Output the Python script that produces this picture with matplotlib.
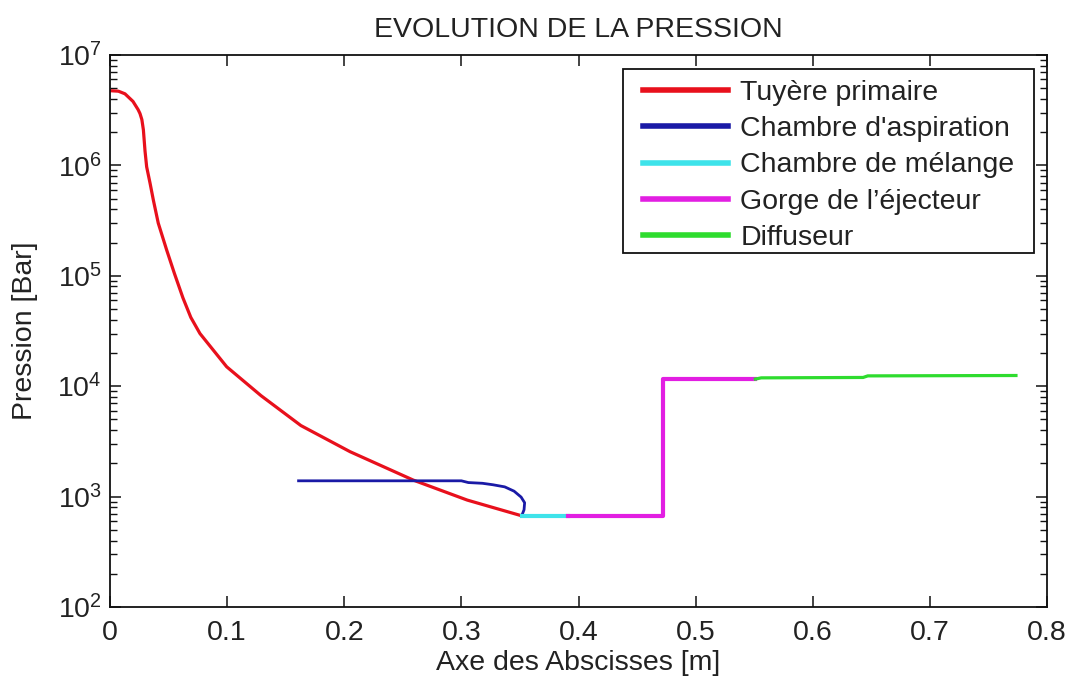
import matplotlib
matplotlib.use("Agg")
import matplotlib.pyplot as plt
from matplotlib import font_manager
from matplotlib.patches import Rectangle
import numpy as np

# ---- data ----
x_tuyere = [0.000, 0.0072, 0.0128, 0.0196, 0.0240, 0.0256, 0.0272, 0.0285, 0.0299, 0.0313,
            0.0342, 0.037, 0.0412, 0.0484, 0.055, 0.0623, 0.069, 0.0768, 0.0996, 0.129,
            0.163, 0.205, 0.259, 0.305, 0.3515]
p_tuyere = [4.75e6, 4.7e6, 4.45e6, 3.8e6, 3.2e6, 2.95e6, 2.6e6, 2.1e6, 1.35e6, 9.7e5,
            6.9e5, 4.86e5, 3.0e5, 1.71e5, 1.05e5, 6.3e4, 4.2e4, 3.0e4, 1.5e4, 8.2e3,
            4.4e3, 2.55e3, 1.41e3, 9.3e2, 6.7e2]

x_aspiration = [0.161, 0.300, 0.306, 0.318, 0.327, 0.337, 0.345, 0.351, 0.354, 0.3535, 0.3515]
p_aspiration = [1390, 1390, 1340, 1320, 1280, 1225, 1120, 990, 880, 760, 670]

x_melange = [0.3515, 0.391]
p_melange = [670, 670]

x_gorge = [0.391, 0.4724, 0.4724, 0.551]
p_gorge = [670, 670, 1.16e4, 1.16e4]

x_diffuseur = [0.551, 0.556, 0.643, 0.647, 0.7735]
p_diffuseur = [1.16e4, 1.19e4, 1.2e4, 1.24e4, 1.25e4]

labels = ["Tuyère primaire", "Chambre d'aspiration", "Chambre de mélange",
          "Gorge de l’éjecteur", "Diffuseur"]
colors = ["#e8101c", "#1a1aa6", "#3ee3ea", "#e21ee2", "#2edc2e"]
widths = [2.3, 2.0, 3.0, 3.0, 2.3]

xticks = [0, 0.1, 0.2, 0.3, 0.4, 0.5, 0.6, 0.7, 0.8]
xticklabels = ["0", "0.1", "0.2", "0.3", "0.4", "0.5", "0.6", "0.7", "0.8"]

# ---- fonts ----
avail = {f.name for f in font_manager.fontManager.ttflist}
fam = "Liberation Sans" if "Liberation Sans" in avail else "DejaVu Sans"
plt.rcParams['font.family'] = [fam, 'DejaVu Sans']
plt.rcParams['mathtext.fontset'] = 'custom'
plt.rcParams['mathtext.rm'] = fam
plt.rcParams['mathtext.it'] = fam
plt.rcParams['mathtext.bf'] = fam

FS = 20.5
txtcol = "#222222"
W, H = 1072, 677

fig = plt.figure(figsize=(W / 100, H / 100), dpi=100)
ax = fig.add_axes([110 / W, 1 - 607 / H, 937 / W, 552 / H])

series = [(x_tuyere, p_tuyere), (x_aspiration, p_aspiration), (x_melange, p_melange),
          (x_gorge, p_gorge), (x_diffuseur, p_diffuseur)]
for (xs, ps), lab, c, w in zip(series, labels, colors, widths):
    ax.plot(xs, ps, color=c, lw=w, label=lab, solid_joinstyle='round')

ax.set_yscale('log')
ax.set_xlim(0, 0.8)
ax.set_ylim(1e2, 1e7)
ax.set_xticks(xticks)
ax.set_xticklabels(xticklabels)

for s in ax.spines.values():
    s.set_linewidth(1.3)
    s.set_color("#111111")

ax.tick_params(which='both', direction='in', top=True, right=True, colors="#111111",
               labelcolor=txtcol, labelsize=FS)
ax.tick_params(which='major', length=8, width=1.1)
ax.tick_params(which='minor', length=5, width=1.0)
ax.tick_params(axis='x', pad=9)
ax.tick_params(axis='y', pad=6)

ax.set_title("EVOLUTION DE LA PRESSION", fontsize=FS, color=txtcol, pad=13)
ax.set_xlabel("Axe des Abscisses [m]", fontsize=FS, color=txtcol, labelpad=3)
ax.set_ylabel("Pression [Bar]", fontsize=FS, color=txtcol, labelpad=14)

# legend frame (MATLAB style box with wider left margin)
box = Rectangle((623 / W, 1 - 253 / H), 411 / W, 184 / H, transform=fig.transFigure,
                facecolor="white", edgecolor="#111111", linewidth=1.3, zorder=4.5,
                clip_on=False)
ax.add_patch(box)

leg = ax.legend(loc='upper left', fontsize=FS, frameon=False,
                handlelength=3.0, handletextpad=0.42, labelspacing=0.36,
                borderpad=0.0, borderaxespad=0)
leg.set_bbox_to_anchor((643 / W, 1 - 80 / H), transform=fig.transFigure)
leg.set_zorder(5)
for t in leg.get_texts():
    t.set_color(txtcol)
for h in leg.get_lines():
    h.set_linewidth(4)

fig.savefig("out.png", dpi=100)
